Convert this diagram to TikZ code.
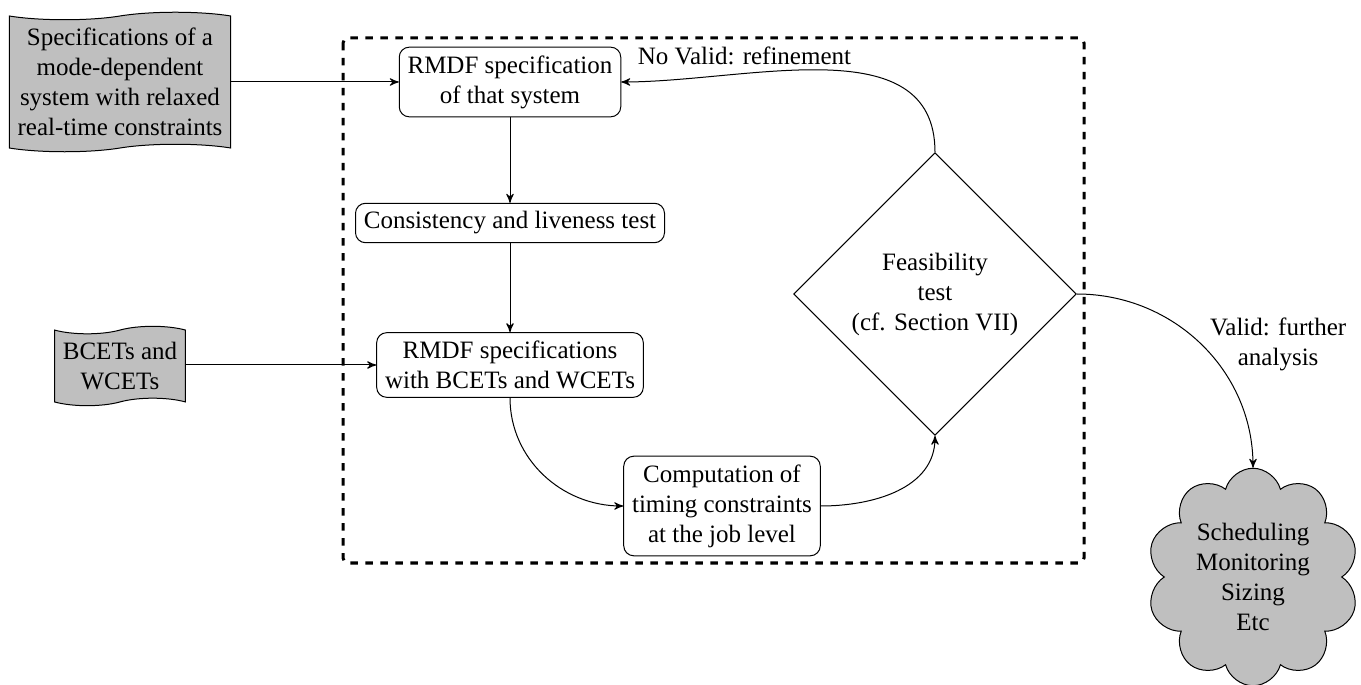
\documentclass[tikz,border=0pt]{standalone}
\usepackage{fontspec}
\setmainfont{Liberation Serif}
\usetikzlibrary{shapes.geometric,shapes.symbols,arrows}
\begin{document}
\begin{tikzpicture}[x=0.4pt,y=-0.4pt,>=stealth',
  box/.style={draw,rounded corners=4pt,align=center},
  tapebox/.style={draw,tape,tape bend height=3pt,fill=lightgray,align=center},
  decision/.style={draw,diamond,aspect=1,align=center},
  cloudbox/.style={draw,cloud,cloud puffs=10,aspect=1,fill=lightgray,align=center,minimum width=85pt,minimum height=87pt,inner sep=0pt},
  frame/.style={very thick,dashed,rounded corners=2pt},
  conn/.style={->}]
\useasboundingbox (0,0) rectangle (1361,685);
\draw[frame] (343,38) rectangle (1084,563);
\node[tapebox] (spec) at (120,82) {Specifications of a\\mode-dependent\\system with relaxed\\real-time constraints};
\node[tapebox] (bcet) at (120,366) {BCETs and\\WCETs};
\node[box] (rmdf1) at (510,82) {RMDF specification\\of that system};
\node[box] (cons) at (510,223) {Consistency and liveness test};
\node[box] (rmdf2) at (510,365) {RMDF specifications\\with BCETs and WCETs};
\node[box] (comp) at (722,506) {Computation of\\timing constraints\\at the job level};
\node[decision] (feas) at (935,294) {Feasibility\\test\\(cf. Section VII)};
\node[cloudbox] (out) at (1253,577) {Scheduling\\Monitoring\\Sizing\\Etc};
\draw[conn] (spec.east |- rmdf1.west) -- (rmdf1.west);
\draw[conn] (bcet.east |- rmdf2.west) -- (rmdf2.west);
\draw[conn] (rmdf1) -- (cons);
\draw[conn] (cons) -- (rmdf2);
\draw[conn] (rmdf2.south) to[out=-90,in=180] (comp.west);
\draw[conn] (comp.east) to[out=0,in=-90] (feas.south);
\draw[conn] (feas.north) to[out=90,in=0] node[pos=0.7,above] (nolbl) {No Valid: refinement} (rmdf1.east);
\draw[conn] (feas.east) to[out=0,in=90] node[pos=0.5,right,align=center] (vlbl) {Valid: further\\analysis} (out.north);
\end{tikzpicture}
\end{document}
